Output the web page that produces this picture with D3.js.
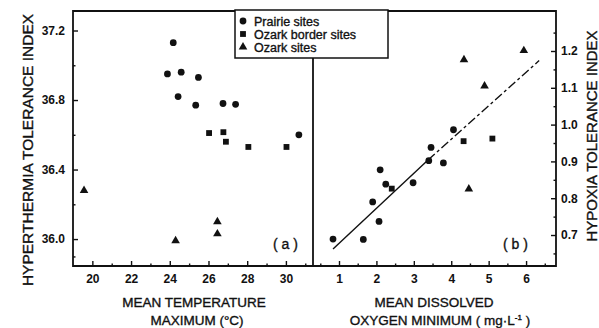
<!DOCTYPE html>
<html>
<head>
<meta charset="utf-8">
<script src="https://cdn.jsdelivr.net/npm/d3@7"></script>
<style>
  body { margin: 0; background: #fff; }
  text { font-family: "Liberation Sans", Arial, sans-serif; fill: #111; }
  .heavy { stroke: #111; stroke-width: 0.35px; }
</style>
</head>
<body>
<div id="chart"></div>
<script>
// panel (a): mean temperature maximum (°C) vs hyperthermia tolerance index
const prairieA = [[24.18, 37.13], [23.88, 36.95], [24.59, 36.96], [25.48, 36.93], [24.43, 36.82],
  [25.34, 36.77], [26.75, 36.78], [27.40, 36.775], [30.67, 36.60]];
const borderA = [[26.03, 36.61], [26.77, 36.615], [26.9, 36.56], [28.06, 36.53], [30.03, 36.53]];
const ozarkA = [[19.57, 36.28], [24.3, 35.99], [26.46, 36.10], [26.46, 36.03]];

// panel (b): mean dissolved oxygen minimum vs hypoxia tolerance index
const prairieB = [[0.84, 0.689], [1.65, 0.688], [1.90, 0.79], [2.07, 0.737], [2.10, 0.877],
  [2.25, 0.838], [2.98, 0.842], [3.40, 0.902], [3.46, 0.938], [3.79, 0.896], [4.06, 0.986]];
const borderB = [[2.41, 0.826], [4.33, 0.955], [5.10, 0.962]];
const ozarkB = [[4.34, 1.176], [4.89, 1.105], [5.94, 1.201], [4.47, 0.825]];
const fitSolid = [[0.84, 0.662], [3.38, 0.904]];
const fitDashed = [[3.38, 0.904], [6.35, 1.174]];

const ticksA_x = [20, 22, 24, 26, 28, 30];
const ticksA_y = [36.0, 36.4, 36.8, 37.2];
const ticksB_x = [1, 2, 3, 4, 5, 6];
const ticksB_y = [0.7, 0.8, 0.9, 1.0, 1.1, 1.2];
const legendItems = ["Prairie sites", "Ozark border sites", "Ozark sites"];

const W = 599, H = 328;
const pTop = 10, pBottom = 266, pLeft = 73, pMid = 313, pRight = 556;

const svg = d3.select("#chart").append("svg")
  .attr("width", W).attr("height", H);

const xA = d3.scaleLinear().domain([19.0, 31.4]).range([pLeft, pMid]);
const yA = d3.scaleLinear().domain([35.845, 37.318]).range([pBottom, pTop]);
const xB = d3.scaleLinear().domain([0.305, 6.80]).range([pMid, pRight]);
const yB = d3.scaleLinear().domain([0.6158, 1.3114]).range([pBottom, pTop]);

// axes (ticks point inward, domain lines replaced by the frame)
function styleAxis(g, bold) {
  g.select(".domain").remove();
  g.selectAll(".tick line").attr("stroke", "#111").attr("stroke-width", 1.4);
  g.selectAll(".tick text").style("font-size", "12px").style("font-weight", bold ? "bold" : "normal")
    .attr("fill", "#111");
}

svg.append("g").attr("transform", `translate(0,${pBottom})`)
  .call(d3.axisBottom(xA).tickValues(ticksA_x).tickSize(-5).tickPadding(8).tickFormat(d3.format("d")))
  .call(g => styleAxis(g, true));
svg.append("g").attr("transform", `translate(0,${pBottom})`)
  .call(d3.axisBottom(xA).tickValues(d3.range(21, 32, 2)).tickSize(-2.5).tickFormat(""))
  .call(g => styleAxis(g));

svg.append("g").attr("transform", `translate(${pLeft},0)`)
  .call(d3.axisLeft(yA).tickValues(ticksA_y).tickSize(-5).tickPadding(8).tickFormat(d3.format(".1f")))
  .call(g => styleAxis(g, true));
svg.append("g").attr("transform", `translate(${pLeft},0)`)
  .call(d3.axisLeft(yA).tickValues([35.9, 36.2, 36.6, 37.0]).tickSize(-2.5).tickFormat(""))
  .call(g => styleAxis(g));

svg.append("g").attr("transform", `translate(0,${pBottom})`)
  .call(d3.axisBottom(xB).tickValues(ticksB_x).tickSize(-5).tickPadding(8).tickFormat(d3.format("d")))
  .call(g => styleAxis(g, true));
svg.append("g").attr("transform", `translate(0,${pBottom})`)
  .call(d3.axisBottom(xB).tickValues([0.5, 1.5, 2.5, 3.5, 4.5, 5.5, 6.5]).tickSize(-2.5).tickFormat(""))
  .call(g => styleAxis(g));

svg.append("g").attr("transform", `translate(${pRight},0)`)
  .call(d3.axisRight(yB).tickValues(ticksB_y).tickSize(-5).tickPadding(5).tickFormat(d3.format(".1f")))
  .call(g => styleAxis(g, true));
svg.append("g").attr("transform", `translate(${pRight},0)`)
  .call(d3.axisRight(yB).tickValues([0.65, 0.75, 0.85, 0.95, 1.05, 1.15, 1.25]).tickSize(-2.5).tickFormat(""))
  .call(g => styleAxis(g));

// frame and divider
svg.append("path")
  .attr("d", `M${pLeft},${pBottom}V${pTop + 1}H${pRight}V${pBottom}Z`)
  .attr("fill", "none").attr("stroke", "#111").attr("stroke-width", 1.8);
svg.append("line")
  .attr("x1", pMid).attr("x2", pMid).attr("y1", pTop).attr("y2", pBottom)
  .attr("stroke", "#111").attr("stroke-width", 1.8);

// markers
const sym = {
  circle: d3.symbol().type(d3.symbolCircle).size(36),
  square: d3.symbol().type(d3.symbolSquare).size(34),
  triangle: d3.symbol().type(d3.symbolTriangle).size(32)
};
function plot(data, x, y, shape) {
  svg.append("g").selectAll("path").data(data).enter().append("path")
    .attr("transform", d => `translate(${x(d[0])},${y(d[1])})`)
    .attr("d", sym[shape]).attr("fill", "#111");
}
plot(prairieA, xA, yA, "circle");
plot(borderA, xA, yA, "square");
plot(ozarkA, xA, yA, "triangle");
plot(prairieB, xB, yB, "circle");
plot(borderB, xB, yB, "square");
plot(ozarkB, xB, yB, "triangle");

// regression line in panel (b)
const fit = d3.line().x(d => xB(d[0])).y(d => yB(d[1]));
svg.append("path").attr("d", fit(fitSolid))
  .attr("fill", "none").attr("stroke", "#111").attr("stroke-width", 1.4);
svg.append("path").attr("d", fit(fitDashed))
  .attr("fill", "none").attr("stroke", "#111").attr("stroke-width", 1.4)
  .attr("stroke-dasharray", "9,3,3,3");

// legend
const lg = svg.append("g");
lg.append("rect").attr("x", 235).attr("y", pTop).attr("width", 153).attr("height", 48)
  .attr("fill", "#fff").attr("stroke", "#111").attr("stroke-width", 1.5);
const shapes = ["circle", "square", "triangle"];
legendItems.forEach((t, i) => {
  const cy = 21 + i * 13;
  lg.append("path").attr("transform", `translate(243,${cy})`).attr("d", sym[shapes[i]]).attr("fill", "#111");
  lg.append("text").attr("class", "heavy").attr("x", 254).attr("y", cy + 4.5)
    .style("font-size", "12.5px").text(t);
});

// panel labels
svg.append("text").attr("class", "heavy").attr("x", 273).attr("y", 249).style("font-size", "14px").text("( a )");
svg.append("text").attr("class", "heavy").attr("x", 503).attr("y", 249).style("font-size", "14px").text("( b )");

// axis titles
const title = (x, y, txt) => svg.append("text").attr("class", "heavy").attr("x", x).attr("y", y)
  .attr("text-anchor", "middle").style("font-size", "13.5px").text(txt);
title(194, 307, "MEAN TEMPERATURE");
title(197, 325, "MAXIMUM  (°C)");
title(434, 307, "MEAN DISSOLVED");
const t2 = title(440, 325, "OXYGEN MINIMUM  ( mg·L");
t2.append("tspan").attr("dy", -5).style("font-size", "8px").text("-1");
t2.append("tspan").attr("dy", 5).text(" )");

svg.append("text").attr("class", "heavy").attr("transform", "translate(33,150) rotate(-90)")
  .attr("text-anchor", "middle").style("font-size", "15.5px").text("HYPERTHERMIA TOLERANCE INDEX");
svg.append("text").attr("class", "heavy").attr("transform", "translate(597,136) rotate(-90)")
  .attr("text-anchor", "middle").style("font-size", "15px").text("HYPOXIA TOLERANCE INDEX");
</script>
</body>
</html>
